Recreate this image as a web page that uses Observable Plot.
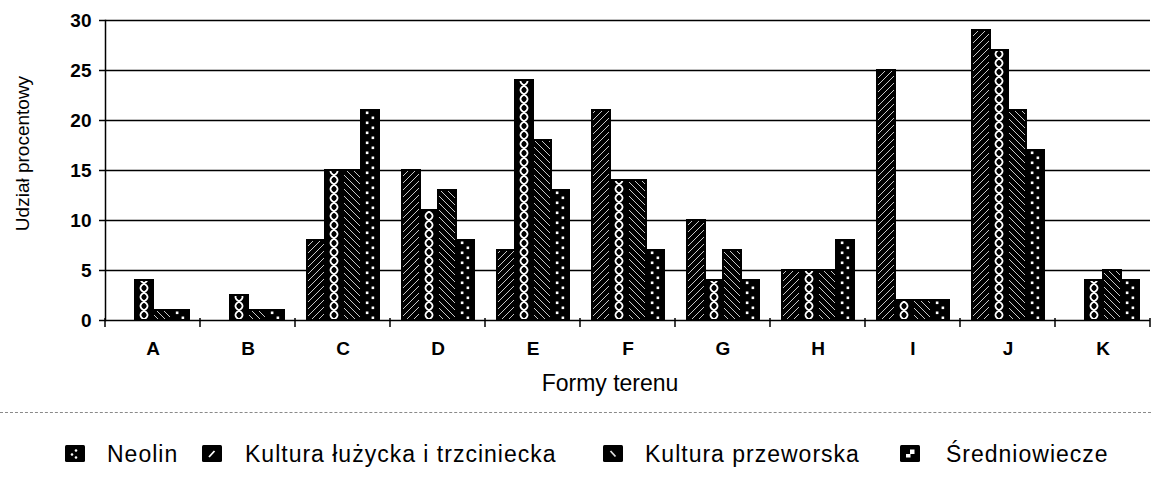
<!DOCTYPE html>
<html>
<head>
<meta charset="utf-8">
<script src="https://cdn.jsdelivr.net/npm/d3@7"></script>
<script src="https://cdn.jsdelivr.net/npm/@observablehq/plot@0.6"></script>
<style>
  body { margin: 0; background: #fff; font-family: "Liberation Sans", Arial, sans-serif; }
  #wrap { position: relative; width: 1151px; height: 484px; overflow: hidden; }
  #chart { position: absolute; left: 0; top: 0; }
  #sep { position: absolute; left: 0; width: 1151px; top: 412px; border-top: 1.5px dashed #8a8a8a; }
  .lg-icon { position: absolute; top: 445px; width: 20px; height: 17px; }
  .lg-text { position: absolute; top: 440px; height: 28px; line-height: 28px; font-size: 23px; color: #000; letter-spacing: 1px; white-space: nowrap; }
</style>
</head>
<body>
<div id="wrap">
  <div id="chart"></div>
  <div id="sep"></div>
  <div id="legend"></div>
</div>
<script>
// ---- data ----
const categories = ["A", "B", "C", "D", "E", "F", "G", "H", "I", "J", "K"];
const seriesNames = ["Neolin", "Kultura łużycka i trzciniecka", "Kultura przeworska", "Średniowiecze"];
const neolin        = [0, 0, 8, 15, 7, 21, 10, 5, 25, 29, 0];
const luzycka       = [4, 2.5, 15, 11, 24, 14, 4, 5, 2, 27, 4];
const przeworska    = [1, 1, 15, 13, 18, 14, 7, 5, 2, 21, 5];
const sredniowiecze = [1, 1, 21, 8, 13, 7, 4, 8, 2, 17, 4];
const yTicks = [0, 5, 10, 15, 20, 25, 30];
const xLabel = "Formy terenu";
const yLabel = "Udział procentowy";

// ---- build table ----
const seriesValues = [neolin, luzycka, przeworska, sredniowiecze];
const rows = categories.flatMap((c, i) =>
  seriesNames.map((s, j) => ({cat: c, series: s, idx: j, value: seriesValues[j][i]}))
).filter(d => d.value > 0);

const FONT = "'Liberation Sans', Arial, sans-serif";

const chart = Plot.plot({
  width: 1151,
  height: 400,
  marginLeft: 105,
  marginRight: 1,
  marginTop: 20,
  marginBottom: 80,
  style: {fontFamily: FONT, background: "white", color: "black", overflow: "visible"},
  fx: {domain: categories, padding: 0, label: null},
  x: {domain: seriesNames, paddingInner: 0, paddingOuter: 0.6, axis: null},
  y: {domain: [0, 30], label: null},
  color: {type: "identity"},
  marks: [
    Plot.gridY(yTicks, {stroke: "black", strokeOpacity: 1, strokeWidth: 1.5}),
    Plot.barY(rows, {
      fx: "cat", x: "series", y: "value",
      fill: d => `url(#pat${d.idx})`,
      stroke: "black", strokeWidth: 2
    }),
    Plot.frame({anchor: "left", facetAnchor: "left", stroke: "black", strokeWidth: 1.5}),
    Plot.axisY({ticks: yTicks, tickSize: 6, tickPadding: 8, fontSize: 19, fontWeight: "bold", label: null, strokeWidth: 1.5}),
    Plot.axisFx({anchor: "bottom", tickSize: 0, tickPadding: 21, fontSize: 19, fontWeight: "bold", label: null}),
    Plot.text([yLabel], {facet: "super", frameAnchor: "left", rotate: -90, textAnchor: "middle", dx: -83, dy: -17, fontSize: 19}),
    Plot.text([xLabel], {facet: "super", frameAnchor: "bottom", lineAnchor: "middle", textAnchor: "middle", dx: -18, dy: 63, fontSize: 23, letterSpacing: "0.6px"})
  ]
});

// ---- patterns (aligned to the series bands) ----
const svg = d3.select(chart);
const xs = chart.scale("x");
const bw = xs.bandwidth;
const defs = svg.insert("defs", ":first-child");

// 0: "/" hatch
{
  const p = defs.append("pattern").attr("id", "pat0").attr("patternUnits", "userSpaceOnUse")
    .attr("width", 7).attr("height", 7);
  p.append("rect").attr("width", 7).attr("height", 7).attr("fill", "black");
  p.append("path").attr("d", "M-1,8 L8,-1")
    .attr("stroke", "#c8c8c8").attr("stroke-width", 1);
}
// 1: chain of loops
{
  const x0 = xs.apply(seriesNames[1]);
  const h = 9, cx = bw / 2, a = 3.6;
  const p = defs.append("pattern").attr("id", "pat1").attr("patternUnits", "userSpaceOnUse")
    .attr("x", x0).attr("y", 0).attr("width", bw).attr("height", h);
  p.append("rect").attr("width", bw).attr("height", h).attr("fill", "black");
  p.append("path")
    .attr("d", `M${cx - a},0 C${cx - a},${h / 2} ${cx + a},${h / 2} ${cx + a},${h} M${cx + a},0 C${cx + a},${h / 2} ${cx - a},${h / 2} ${cx - a},${h}`)
    .attr("fill", "none").attr("stroke", "white").attr("stroke-width", 1.7);
}
// 2: "\" hatch
{
  const p = defs.append("pattern").attr("id", "pat2").attr("patternUnits", "userSpaceOnUse")
    .attr("width", 7).attr("height", 7);
  p.append("rect").attr("width", 7).attr("height", 7).attr("fill", "black");
  p.append("path").attr("d", "M-1,-1 L8,8")
    .attr("stroke", "#c8c8c8").attr("stroke-width", 1);
}
// 3: staggered dots
{
  const x0 = xs.apply(seriesNames[3]);
  const h = 10;
  const p = defs.append("pattern").attr("id", "pat3").attr("patternUnits", "userSpaceOnUse")
    .attr("x", x0).attr("y", 0).attr("width", bw).attr("height", h);
  p.append("rect").attr("width", bw).attr("height", h).attr("fill", "black");
  p.append("rect").attr("x", bw * 0.34 - 1.3).attr("y", 1.5).attr("width", 2.6).attr("height", 2.6).attr("fill", "white");
  p.append("rect").attr("x", bw * 0.66 - 1.3).attr("y", 6.5).attr("width", 2.6).attr("height", 2.6).attr("fill", "white");
}

// ---- category boundary ticks on the x axis ----
const fxs = chart.scale("fx");
const ys = chart.scale("y");
const y0 = ys.apply(0);
const bounds = categories.map(c => fxs.apply(c)).concat([fxs.apply(categories[categories.length - 1]) + fxs.bandwidth]);
svg.append("g").attr("aria-label", "x-boundary-ticks")
  .selectAll("line").data(bounds).join("line")
  .attr("x1", d => d).attr("x2", d => d)
  .attr("y1", y0 - 2).attr("y2", y0 + 7)
  .attr("stroke", "black").attr("stroke-width", 1.5);

document.getElementById("chart").appendChild(chart);

// ---- legend ----
const legendLayout = [
  {icon: 65, text: 107},
  {icon: 202, text: 245},
  {icon: 603, text: 645},
  {icon: 900, text: 946}
];
const iconMarks = [
  `<circle cx="11" cy="5.5" r="1.3" fill="white"/><circle cx="7" cy="9.5" r="1.3" fill="white"/><circle cx="11" cy="12.5" r="1.3" fill="white"/>`,
  `<path d="M7,12 L12.5,6" stroke="white" stroke-width="1.8"/>`,
  `<path d="M7.5,6 L12.5,11.5" stroke="#e0e0e0" stroke-width="1.8"/>`,
  `<path d="M10,4.5 h4.5 v4.5 h-4.5 z M6,9 h4.5 v3.5 h-4.5 z" fill="white"/>`
];
const legend = document.getElementById("legend");
seriesNames.forEach((name, i) => {
  const ic = document.createElement("div");
  ic.className = "lg-icon";
  ic.style.left = legendLayout[i].icon + "px";
  ic.innerHTML = `<svg width="20" height="17" viewBox="0 0 20 17"><rect x="0" y="0" width="20" height="17" rx="1.5" fill="black"/>${iconMarks[i]}</svg>`;
  legend.appendChild(ic);
  const tx = document.createElement("div");
  tx.className = "lg-text";
  tx.style.left = legendLayout[i].text + "px";
  tx.textContent = name;
  legend.appendChild(tx);
});
</script>
</body>
</html>
